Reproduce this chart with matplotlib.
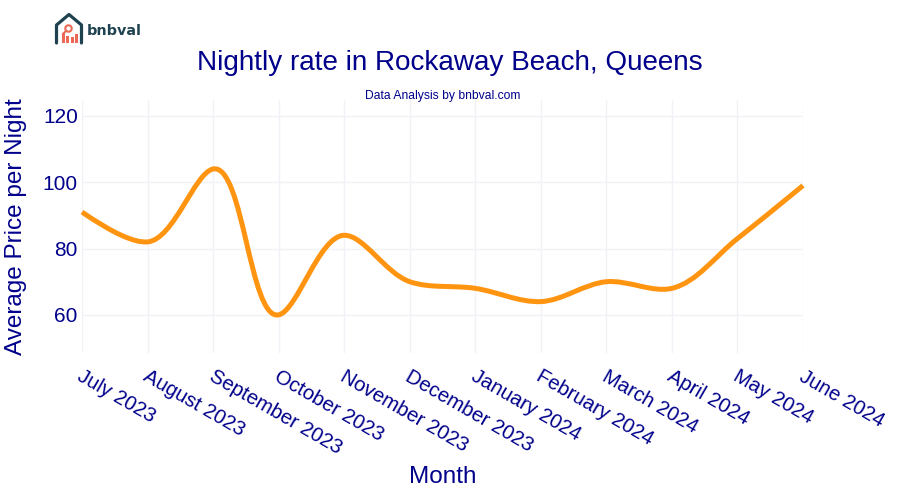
import matplotlib
matplotlib.use('Agg')

import numpy as np
import matplotlib.pyplot as plt
from matplotlib.path import Path
from matplotlib.patches import PathPatch, Rectangle, Circle

months = ["July 2023", "August 2023", "September 2023", "October 2023",
          "November 2023", "December 2023", "January 2024", "February 2024",
          "March 2024", "April 2024", "May 2024", "June 2024"]
prices = [91, 82, 104, 60, 84, 70, 68, 64, 70, 68, 83, 99]
y_ticks = [60, 80, 100, 120]

NAVY = '#00008b'
ORANGE = '#ff9410'
GRID = '#f0f2f7'
W, H = 900, 500
LEFT, RIGHT, TOP, BOTTOM = 82, 803, 100, 353
YMIN, YMAX = 48.5, 124.8


def tangent(prev, this, nxt):
    # same control point rule as a plotly spline, smoothing 1
    d1 = prev - this
    d2 = nxt - this
    a1 = np.hypot(*d1)
    a2 = np.hypot(*d2)
    num = a2 * a2 * d1 - a1 * a1 * d2
    return this + num / (3 * a2 * (a1 + a2)), this - num / (3 * a1 * (a1 + a2))


def spline_path(x, y):
    # control points worked out in pixels, then put back in data units
    sx = (RIGHT - LEFT) / (x[-1] - x[0])
    sy = (BOTTOM - TOP) / (YMAX - YMIN)
    pts = np.column_stack([np.asarray(x) * sx, np.asarray(y) * sy])
    tans = [tangent(pts[i - 1], pts[i], pts[i + 1]) for i in range(1, len(pts) - 1)]

    verts = [pts[0], tans[0][0], pts[1]]
    codes = [Path.MOVETO, Path.CURVE3, Path.CURVE3]
    for i in range(1, len(tans)):
        verts += [tans[i - 1][1], tans[i][0], pts[i + 1]]
        codes += [Path.CURVE4] * 3
    verts += [tans[-1][1], pts[-1]]
    codes += [Path.CURVE3] * 2
    return Path(np.array(verts) / [sx, sy], codes)


def draw_logo(fig):
    # small house logo, in pixels from the top left
    ax = fig.add_axes([0, 0, 1, 1], zorder=5)
    ax.set_xlim(0, W)
    ax.set_ylim(H, 0)
    ax.axis('off')
    ax.plot([56.5, 56.5, 69, 81.5, 81.5], [43, 25, 14.5, 25, 43], color='#1f4250', lw=2.3,
            solid_joinstyle='round', solid_capstyle='round')
    for bx, top in zip([61.5, 65.5, 70.5, 75], [33, 36, 37, 34]):
        ax.add_patch(Rectangle((bx, top), 3, 43 - top, color='#ec6a55', lw=0))
    ax.add_patch(Circle((68.5, 28.5), 3.2, fill=False, ec='#ec6a55', lw=1.5))
    ax.plot([66, 63], [31, 34], color='#ec6a55', lw=1.5)
    ax.text(87, 31, "bnbval", color='#1f4250', fontsize=10.4, fontweight='bold',
            family='DejaVu Sans', ha='left', va='center')


plt.rcParams['font.family'] = ['Liberation Sans', 'DejaVu Sans']

fig = plt.figure(figsize=(W / 100, H / 100), dpi=100)
ax = fig.add_axes([LEFT / W, 1 - BOTTOM / H, (RIGHT - LEFT) / W, (BOTTOM - TOP) / H])

x = np.arange(len(months))
ax.add_patch(PathPatch(spline_path(x, prices), fill=False, ec=ORANGE, lw=3.6,
                       capstyle='butt', clip_on=False, zorder=3))

ax.set_xlim(0, len(months) - 1)
ax.set_ylim(YMIN, YMAX)
ax.set_xticks(x)
ax.set_xticklabels([])
# tick labels sit a little right of their gridline, so they are placed by hand
for pos, name in zip(x, months):
    ax.annotate(name, (pos, 0), xycoords=ax.get_xaxis_transform(),
                xytext=(2, -14), textcoords='offset pixels', rotation=-30,
                rotation_mode='anchor', ha='left', va='top', color=NAVY, fontsize=14.6)
ax.set_yticks(y_ticks)
ax.tick_params(axis='y', labelsize=15, labelcolor=NAVY, length=0, pad=3)
ax.tick_params(axis='x', length=0)
ax.grid(True, color=GRID, lw=1.0)
ax.set_axisbelow(True)
for side in ax.spines.values():
    side.set_visible(False)

fig.text(450 / W, 1 - 63 / H, "Nightly rate in Rockaway Beach, Queens", color=NAVY,
         fontsize=20.1, ha='center', va='center')
fig.text(443 / W, 1 - 96 / H, "Data Analysis by bnbval.com", color=NAVY,
         fontsize=8.7, ha='center', va='center')
fig.text(443 / W, 1 - 477 / H, "Month", color=NAVY, fontsize=17.5, ha='center', va='center')
fig.text(16.5 / W, 1 - 227 / H, "Average Price per Night", color=NAVY, fontsize=17.5,
         rotation=90, ha='center', va='center')

draw_logo(fig)

fig.savefig('out.png', dpi=100)
